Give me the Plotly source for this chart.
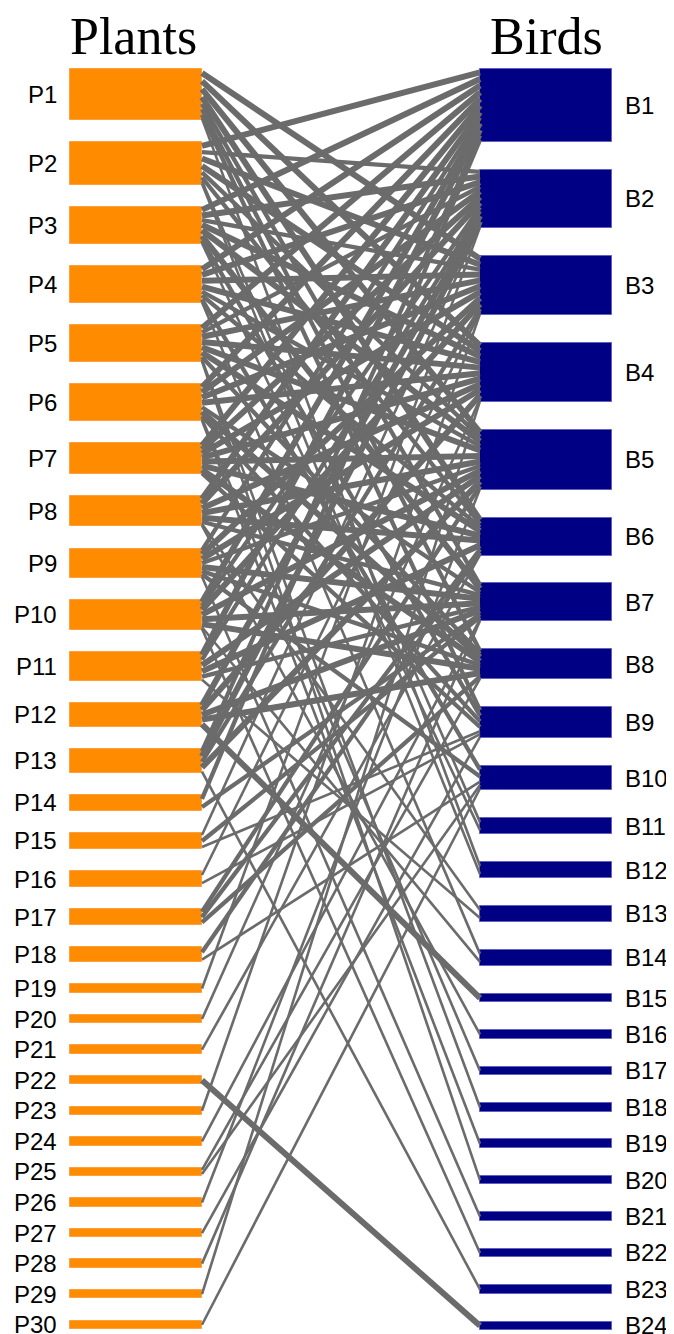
import plotly.graph_objects as go

# ---------------- data ----------------
plants = ["P1", "P2", "P3", "P4", "P5", "P6", "P7", "P8", "P9", "P10",
          "P11", "P12", "P13", "P14", "P15", "P16", "P17", "P18", "P19", "P20",
          "P21", "P22", "P23", "P24", "P25", "P26", "P27", "P28", "P29", "P30"]
plant_values = [51, 43, 37, 37, 37, 37, 31, 30, 29, 30,
                29, 24, 24, 16, 16, 16, 16, 15, 8.5, 8.5,
                8.5, 8.5, 8.5, 8.5, 8.5, 8.5, 8.5, 8.5, 8.5, 8.5]

birds = ["B1", "B2", "B3", "B4", "B5", "B6", "B7", "B8", "B9", "B10",
         "B11", "B12", "B13", "B14", "B15", "B16", "B17", "B18", "B19", "B20",
         "B21", "B22", "B23", "B24"]
bird_values = [73, 58, 59, 59, 60, 38, 38, 30, 31, 24,
               16, 16, 16, 16, 8.5, 8.5, 8.5, 8.5, 8.5, 8.5,
               8.5, 8.5, 8.5, 8.5]

# interaction links: plant, bird, strength class (1 weak .. 3 strong)
link_plant = (["P1"] * 8 + ["P2"] * 8 + ["P3"] * 8 + ["P4"] * 8 + ["P5"] * 9 +
              ["P6"] * 9 + ["P7"] * 8 + ["P8"] * 8 + ["P9"] * 8 + ["P10"] * 8 +
              ["P11"] * 6 + ["P12"] * 5 + ["P13"] * 5 +
              ["P14", "P14", "P15", "P15", "P15", "P16", "P16", "P17", "P17", "P17",
               "P18", "P18", "P19", "P20", "P21", "P22", "P23", "P24", "P25", "P25",
               "P26", "P27", "P28", "P29", "P30"])
link_bird = ["B3", "B4", "B5", "B6", "B7", "B8", "B9", "B12",
             "B1", "B2", "B3", "B4", "B5", "B6", "B11", "B12",
             "B1", "B2", "B3", "B4", "B5", "B7", "B9", "B11",
             "B1", "B2", "B3", "B4", "B5", "B6", "B10", "B14",
             "B1", "B2", "B3", "B4", "B5", "B6", "B8", "B18", "B20",
             "B1", "B2", "B3", "B4", "B7", "B8", "B9", "B17", "B19",
             "B1", "B2", "B3", "B4", "B5", "B6", "B8", "B9",
             "B1", "B2", "B4", "B5", "B6", "B7", "B13", "B16",
             "B1", "B3", "B4", "B5", "B7", "B8", "B10", "B21",
             "B1", "B2", "B3", "B5", "B7", "B8", "B14", "B22",
             "B1", "B2", "B5", "B6", "B7", "B13",
             "B2", "B4", "B7", "B8", "B15",
             "B1", "B2", "B3", "B5", "B23",
             "B1", "B7", "B2", "B7", "B9", "B3", "B9", "B5", "B6", "B8",
             "B6", "B10", "B2", "B4", "B6", "B24", "B3", "B7", "B8", "B10",
             "B5", "B9", "B7", "B4", "B10"]
link_weight = [3, 3, 3, 3, 2, 2, 2, 1,
               3, 2, 3, 3, 2, 2, 1, 1,
               3, 3, 2, 3, 3, 3, 2, 1,
               3, 3, 3, 3, 2, 2, 2, 1,
               3, 2, 3, 3, 3, 3, 2, 1, 1,
               3, 3, 3, 3, 2, 3, 2, 1, 1,
               3, 3, 3, 3, 3, 3, 3, 2,
               3, 3, 3, 3, 3, 2, 1, 1,
               2, 3, 3, 2, 3, 2, 2, 1,
               3, 2, 3, 3, 3, 3, 1, 1,
               3, 2, 3, 3, 2, 1,
               3, 3, 3, 3, 3,
               2, 3, 2, 3, 1,
               2, 2, 1, 2, 1, 1, 1, 2, 2, 2,
               2, 1, 1, 1, 1, 3, 1, 1, 1, 1,
               1, 1, 1, 1, 1]

# ---------------- geometry / styling ----------------
# page has an 8px body margin: axis ranges are chosen so data units = page pixels
W, H = 674, 1334
OFF = 8
TOP = 69
P_BOTTOM, B_BOTTOM = 1329, 1330
PX0, PX1 = 70, 202
BX0, BX1 = 480, 612
ORANGE = "#FF8C00"
NAVY = "#000085"
GREY = "#6B6B6B"


def stack(values, top, bottom):
    gap = (bottom - top - sum(values)) / (len(values) - 1)
    tops, y = [], top
    for v in values:
        tops.append(y)
        y += v + gap
    return tops


p_tops = stack(plant_values, TOP, P_BOTTOM)
b_tops = stack(bird_values, TOP, B_BOTTOM)
p_idx = {n: i for i, n in enumerate(plants)}
b_idx = {n: i for i, n in enumerate(birds)}

n_links = len(link_plant)
y_left = [0.0] * n_links
y_right = [0.0] * n_links
for name, i in p_idx.items():
    ks = sorted([k for k in range(n_links) if link_plant[k] == name], key=lambda k: b_idx[link_bird[k]])
    tot = sum(link_weight[k] for k in ks)
    c = 0
    for k in ks:
        y_left[k] = p_tops[i] + plant_values[i] * (c + link_weight[k] / 2) / tot
        c += link_weight[k]
for name, i in b_idx.items():
    ks = sorted([k for k in range(n_links) if link_bird[k] == name], key=lambda k: p_idx[link_plant[k]])
    tot = sum(link_weight[k] for k in ks)
    c = 0
    for k in ks:
        y_right[k] = b_tops[i] + bird_values[i] * (c + link_weight[k] / 2) / tot
        c += link_weight[k]

fig = go.Figure()

widths = {1: 2.6, 2: 4.3, 3: 6.0}
for wcls in (1, 2, 3):
    xs, ys = [], []
    for k in range(n_links):
        if link_weight[k] == wcls:
            xs += [PX1, BX0, None]
            ys += [y_left[k], y_right[k], None]
    fig.add_trace(go.Scatter(x=xs, y=ys, mode="lines",
                             line=dict(color=GREY, width=widths[wcls]),
                             hoverinfo="skip", showlegend=False))

fig.add_trace(go.Bar(orientation="h",
                     y=[t + v / 2 for t, v in zip(p_tops, plant_values)],
                     x=[PX1 - PX0] * len(plants), base=PX0, width=plant_values,
                     marker=dict(color=ORANGE, line=dict(color="#FFA040", width=1)),
                     hovertext=plants, showlegend=False))
fig.add_trace(go.Bar(orientation="h",
                     y=[t + v / 2 for t, v in zip(b_tops, bird_values)],
                     x=[BX1 - BX0] * len(birds), base=BX0, width=bird_values,
                     marker=dict(color=NAVY, line=dict(color="#6060C0", width=1)),
                     hovertext=birds, showlegend=False))

ann = []
for name, t, v in zip(plants, p_tops, plant_values):
    ann.append(dict(x=59, y=t + v / 2, text=name, xref="x", yref="y", showarrow=False,
                    xanchor="right", yanchor="middle",
                    font=dict(family="Liberation Sans, Arial", size=24, color="black")))
for name, t, v in zip(birds, b_tops, bird_values):
    ann.append(dict(x=623, y=t + v / 2, text=name, xref="x", yref="y", showarrow=False,
                    xanchor="left", yanchor="middle",
                    font=dict(family="Liberation Sans, Arial", size=24, color="black")))
ann.append(dict(x=(PX0 + PX1) / 2 - 3, y=36, text="Plants", xref="x", yref="y", showarrow=False,
                xanchor="center", yanchor="middle",
                font=dict(family="Liberation Serif, Times New Roman", size=52, color="black")))
ann.append(dict(x=(BX0 + BX1) / 2, y=36, text="Birds", xref="x", yref="y", showarrow=False,
                xanchor="center", yanchor="middle",
                font=dict(family="Liberation Serif, Times New Roman", size=52, color="black")))

fig.update_layout(width=W - OFF, height=H - OFF, margin=dict(l=0, r=0, t=0, b=0, pad=0),
                  paper_bgcolor="white", plot_bgcolor="white", barmode="overlay",
                  bargap=0, annotations=ann,
                  xaxis=dict(range=[OFF, W], visible=False, fixedrange=True),
                  yaxis=dict(range=[H, OFF], visible=False, fixedrange=True))

fig.write_html("out.html")
